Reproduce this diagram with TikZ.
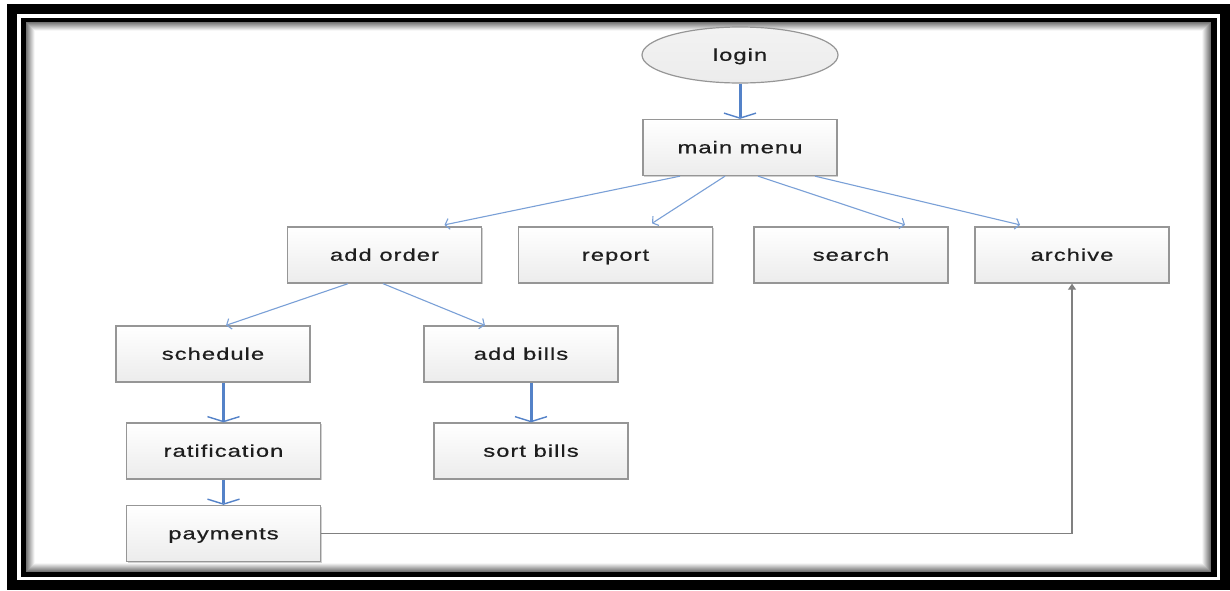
\documentclass[tikz,border=0pt]{standalone}
\usepackage{fontspec}
\newfontfamily\labelfont[FakeStretch=1.4,LetterSpace=6,FakeBold=0.6]{Liberation Sans}
\usetikzlibrary{arrows.meta,shapes.geometric,calc,shadows}

\definecolor{flowblue}{RGB}{84,130,200}
\definecolor{thinblue}{RGB}{122,160,215}
\definecolor{boxline}{RGB}{150,150,150}
\definecolor{boxfill}{RGB}{236,236,236}
\definecolor{labeltext}{RGB}{30,30,30}

\tikzset{
  labeltype/.style={font=\labelfont\fontsize{17}{20}\selectfont, text=labeltext,
    text height=12pt, text depth=0.5pt},
  stepbox/.style={rectangle, draw=boxline, line width=1.3pt,
    top color=white, bottom color=boxfill,
    drop shadow={shadow xshift=1.2pt, shadow yshift=-1.2pt, fill=black!30, opacity=0.6},
    minimum width=194pt, minimum height=56pt, inner sep=0pt, labeltype},
  startnode/.style={ellipse, draw=boxline, line width=1.2pt,
    top color=white!95!black, bottom color=boxfill,
    minimum width=196pt, minimum height=56pt, inner sep=0pt, labeltype},
  thickflow/.style={draw=flowblue, line width=3pt,
    -{Straight Barb[length=5pt,width=32pt,line width=1.4pt]}},
  thinflow/.style={draw=thinblue, line width=1.1pt,
    -{Straight Barb[length=4pt,width=11pt]}},
  backflow/.style={draw=black!50, line width=1.1pt,
    -{Triangle[length=6pt,width=8pt]}}
}

\begin{document}
\begin{tikzpicture}[x=1pt,y=-1pt]
  \useasboundingbox (0,0) rectangle (1230,590);
  \fill[white] (0,0) rectangle (1230,590);

  % double black frame
  \fill[black] (7,4) rectangle (1230,590);
  \fill[white] (17,14) rectangle (1220,580);
  \fill[black] (20.5,17.5) rectangle (1216.5,576.5);
  \fill[white] (25.5,22) rectangle (1211,572);
  % soft inner shading along the frame
  \foreach \i in {0,...,8} {
    \pgfmathsetmacro\shade{55-6.5*\i}
    \draw[black!\shade, line width=1pt]
      (25.5+\i+0.5,22+\i+0.5) rectangle (1211-\i-0.5,572-\i-0.5);
  }

  % nodes
  \node[startnode] (login) at (740,55) {login};
  \node[stepbox] (mainmenu) at (740,147.5) {main menu};
  \node[stepbox] (addorder) at (384.5,255) {add order};
  \node[stepbox] (report) at (615.5,255) {report};
  \node[stepbox] (search) at (851,255) {search};
  \node[stepbox] (archive) at (1072,255) {archive};
  \node[stepbox] (schedule) at (213,354) {schedule};
  \node[stepbox] (addbills) at (521,354) {add bills};
  \node[stepbox] (ratification) at (223.5,451) {ratification};
  \node[stepbox] (sortbills) at (531,451) {sort bills};
  \node[stepbox] (payments) at (223.5,533.5) {payments};

  % main flow
  \draw[thickflow] (login.south) -- (mainmenu.north);
  \draw[thinflow] ([xshift=-60pt]mainmenu.south) -- ([xshift=60pt,yshift=1.5pt]addorder.north);
  \draw[thinflow] ([xshift=-15pt]mainmenu.south) -- ([xshift=36.5pt,yshift=3pt]report.north);
  \draw[thinflow] ([xshift=18pt]mainmenu.south) -- ([xshift=54pt,yshift=1.5pt]search.north);
  \draw[thinflow] ([xshift=75pt]mainmenu.south) -- ([xshift=-52pt,yshift=1.5pt]archive.north);
  \draw[thinflow] ([xshift=-36.5pt]addorder.south) -- ([xshift=13pt]schedule.north);
  \draw[thinflow] ([xshift=-1.5pt]addorder.south) -- ([xshift=-36pt]addbills.north);
  \draw[thickflow] (schedule.south -| ratification.north) -- (ratification.north);
  \draw[thickflow] (ratification.south) -- (payments.north);
  \draw[thickflow] (addbills.south -| sortbills.north) -- (sortbills.north);
  \draw[backflow] (payments.east) -| (archive.south);
\end{tikzpicture}
\end{document}
